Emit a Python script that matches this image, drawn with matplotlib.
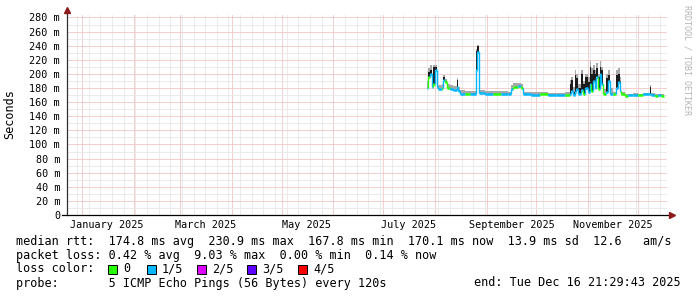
import matplotlib
matplotlib.use("Agg")
import matplotlib.pyplot as plt
import matplotlib.dates as mdates
import matplotlib.transforms as mtransforms
import pandas as pd

# sample times (each value holds until the next sample)
dates = [
    "2025-07-27", "2025-07-28", "2025-07-29", "2025-07-30", "2025-07-31",
    "2025-08-01", "2025-08-02", "2025-08-03", "2025-08-05", "2025-08-06",
    "2025-08-07", "2025-08-08", "2025-08-10", "2025-08-12", "2025-08-14",
    "2025-08-15", "2025-08-16", "2025-08-19", "2025-08-22", "2025-08-25 12:00",
    "2025-08-26 12:00", "2025-08-27 12:00", "2025-08-31", "2025-09-05", "2025-09-10",
    "2025-09-14", "2025-09-16", "2025-09-17", "2025-09-20", "2025-09-22",
    "2025-09-23", "2025-09-28", "2025-10-03", "2025-10-08", "2025-10-13",
    "2025-10-18", "2025-10-21", "2025-10-22", "2025-10-23", "2025-10-24",
    "2025-10-25", "2025-10-26", "2025-10-28", "2025-10-29", "2025-10-30",
    "2025-11-01", "2025-11-02", "2025-11-03", "2025-11-04", "2025-11-05",
    "2025-11-06", "2025-11-07", "2025-11-08", "2025-11-09", "2025-11-10",
    "2025-11-12", "2025-11-13", "2025-11-14", "2025-11-16", "2025-11-18",
    "2025-11-19", "2025-11-20", "2025-11-21", "2025-11-23", "2025-11-25",
    "2025-11-28", "2025-12-01", "2025-12-04", "2025-12-08", "2025-12-09",
    "2025-12-11", "2025-12-13", "2025-12-15", "2025-12-16 21:29",
]
# median rtt in ms
median = [
    180, 196, 200, 181, 185, 205, 182, 178, 180, 192,
    188, 180, 178, 177, 182, 176, 172, 172, 171.5, 205,
    230.9, 173, 172, 171.5, 172, 171, 178, 182, 183, 180,
    171, 170.5, 171, 170, 170, 170.5, 172, 176, 170, 175,
    178, 171, 177, 172, 180, 174, 185, 176, 190, 180,
    195, 178, 200, 185, 172, 175, 190, 172, 171, 180,
    188, 176, 171, 169, 170, 170, 169.5, 171, 172, 170,
    169, 170, 169, 170.1,
]
# top of the light smoke (ms)
smoke_hi = [
    190, 208, 213, 200, 212, 213, 195, 184, 186, 198,
    193, 185, 184, 183, 194, 181, 177, 176, 176, 236,
    241, 177, 176, 175.5, 176, 175, 184, 187, 187.5, 185,
    175, 174, 174, 173, 173.5, 174, 192, 196, 182, 205,
    200, 185, 206, 190, 200, 195, 218, 208, 213, 205,
    215, 200, 218, 210, 178, 200, 205, 180, 175, 205,
    208, 195, 175, 172, 172, 172.5, 172, 173, 184, 173,
    171.5, 172, 171, 171,
]
# top of the dense (dark) smoke (ms)
dark_hi = [
    180, 203, 205, 195, 210, 210, 190, 178, 180, 196,
    190, 180, 178, 177, 191, 176, 172, 172, 171.5, 232,
    239, 173, 172, 171.5, 172, 171, 178, 182, 183, 180,
    171, 170.5, 171, 170, 170, 170.5, 186, 192, 175, 198,
    194, 180, 200, 185, 195, 188, 210, 200, 205, 200,
    208, 195, 210, 205, 172, 194, 198, 172, 171, 198,
    200, 190, 171, 169, 170, 170, 169.5, 171, 181, 170,
    169, 170, 169, 170.1,
]
# lost pings out of 5
loss = [
    1, 0, 1, 1, 0, 1, 1, 1, 0, 1,
    0, 0, 1, 1, 1, 1, 1, 0, 1, 1,
    1, 1, 1, 0, 1, 1, 1, 0, 1, 0,
    1, 1, 0, 1, 1, 0, 1, 1, 1, 1,
    1, 1, 1, 0, 1, 1, 1, 0, 1, 1,
    1, 0, 1, 1, 0, 1, 1, 1, 0, 1,
    1, 1, 0, 0, 1, 1, 0, 1, 1, 1,
    0, 1, 0, 1,
]

loss_labels = ["0", "1/5", "2/5", "3/5", "4/5"]
loss_colors = ["#26ff00", "#00b8ff", "#dd00ff", "#5e00ff", "#ff0000"]

y_ticks = list(range(0, 281, 20))
month_labels = ["January 2025", "March 2025", "May 2025",
                "July 2025", "September 2025", "November 2025"]
month_label_dates = ["2025-01-16", "2025-03-16", "2025-05-16",
                     "2025-07-16", "2025-09-16", "2025-11-16"]

rtt_line = ("median rtt:  174.8 ms avg  230.9 ms max  167.8 ms min  "
            "170.1 ms now  13.9 ms sd  12.6   am/s")
loss_line = "packet loss: 0.42 % avg  9.03 % max  0.00 % min  0.14 % now"
probe_line = "probe:       5 ICMP Echo Pings (56 Bytes) every 120s"
end_line = "end: Tue Dec 16 21:29:43 2025"

MONO = "DejaVu Sans Mono"
W, H = 697, 297

fig = plt.figure(figsize=(W / 100, H / 100), dpi=100)
fig.patch.set_facecolor("white")
ax = fig.add_axes([67 / W, (H - 215) / H, 600 / W, 200 / H])
ax.set_facecolor("white")

t = mdates.date2num(pd.to_datetime(dates, format="mixed").to_pydatetime())
ax.xaxis_date()

# smoke
ax.fill_between(t, median, smoke_hi, step="post", color="#a8a8a8", lw=0, zorder=2)
ax.fill_between(t, median, dark_hi, step="post", color="#1c1c1c", lw=0, zorder=3)

# median line coloured by loss
cols = [loss_colors[k] for k in loss]
ax.hlines(median[:-1], t[:-1], t[1:], colors=cols[:-1], lw=1.8, zorder=4)
ax.vlines(t[1:-1], median[:-2], median[1:-1], colors=cols[1:-1], lw=1.0, zorder=4)

x0 = mdates.date2num(pd.Timestamp("2024-12-23 00:00"))
x1 = mdates.date2num(pd.Timestamp("2025-12-18 10:00"))
ax.set_xlim(x0, x1)
ax.set_ylim(0, 283.5)

# light grid (rrdtool's 1px dotted lines seen at normal size)
ax.xaxis.set_major_locator(mdates.MonthLocator())
ax.xaxis.set_minor_locator(mdates.WeekdayLocator(byweekday=mdates.SU))
ax.set_yticks(y_ticks)
ax.set_yticks(list(range(10, 281, 20)), minor=True)
ax.grid(which="minor", color="#e8e8e8", linestyle="-", lw=0.6, zorder=0)
ax.grid(which="major", color="#f3c6c6", linestyle="-", lw=0.6, zorder=1)
ax.set_axisbelow(True)

ax.set_yticklabels([("%d m" % v) if v else "0" for v in y_ticks],
                   fontfamily=MONO, fontsize=7.3)
ax.tick_params(axis="both", which="both", length=0)
ax.tick_params(axis="y", pad=5)
ax.set_xticklabels([])
for s in ax.spines.values():
    s.set_visible(False)

# x labels centred mid-month like rrdtool
blend = mtransforms.blended_transform_factory(ax.transData, ax.transAxes)
for d, lab in zip(month_label_dates, month_labels):
    ax.text(mdates.date2num(pd.Timestamp(d)), -10 / 200, lab, transform=blend,
            ha="center", va="center", fontfamily=MONO, fontsize=7.3)

# axes with arrows
ax.plot([0, 0], [0, 1.015], transform=ax.transAxes, color="#303030",
        lw=0.9, clip_on=False, zorder=5)
ax.plot([-5 / 600, 1.003], [0, 0], transform=ax.transAxes, color="#000000",
        lw=0.9, clip_on=False, zorder=5)
ax.plot([0], [1.025], marker="^", ms=4.5, color="#8b1a1a", transform=ax.transAxes,
        clip_on=False, zorder=6)
ax.plot([1.008], [0], marker=">", ms=4.5, color="#8b1a1a", transform=ax.transAxes,
        clip_on=False, zorder=6)

# side texts
fig.text(10 / W, 1 - 114 / H, "Seconds", rotation=90, ha="center", va="center",
         fontfamily=MONO, fontsize=8.5)
fig.text(687 / W, 1 - 5 / H, "RRDTOOL / TOBI OETIKER", rotation=270,
         ha="center", va="top", fontfamily=MONO, fontsize=6, color="#b4b4b4")

# legend
def ytxt(y):
    return 1 - y / H

fig.text(16 / W, ytxt(241), rtt_line, ha="left", va="center", fontfamily=MONO, fontsize=8.5)
fig.text(16 / W, ytxt(255), loss_line, ha="left", va="center", fontfamily=MONO, fontsize=8.5)
fig.text(16 / W, ytxt(269), "loss color:", ha="left", va="center", fontfamily=MONO, fontsize=8.5)
box_x = [108, 147, 197, 247, 298]
for bx, lab, c in zip(box_x, loss_labels, loss_colors):
    fig.patches.append(plt.Rectangle((bx / W, ytxt(274)), 9 / W, 9 / H, transform=fig.transFigure,
                                     facecolor=c, edgecolor="black", lw=0.7))
    fig.text((bx + 15) / W, ytxt(269), lab, ha="left", va="center", fontfamily=MONO, fontsize=8.5)
fig.text(16 / W, ytxt(283), probe_line, ha="left", va="center", fontfamily=MONO, fontsize=8.5)
fig.text(681 / W, ytxt(283), end_line, ha="right", va="center", fontfamily=MONO, fontsize=8.5)

fig.savefig("out.png", dpi=100, facecolor="white")
